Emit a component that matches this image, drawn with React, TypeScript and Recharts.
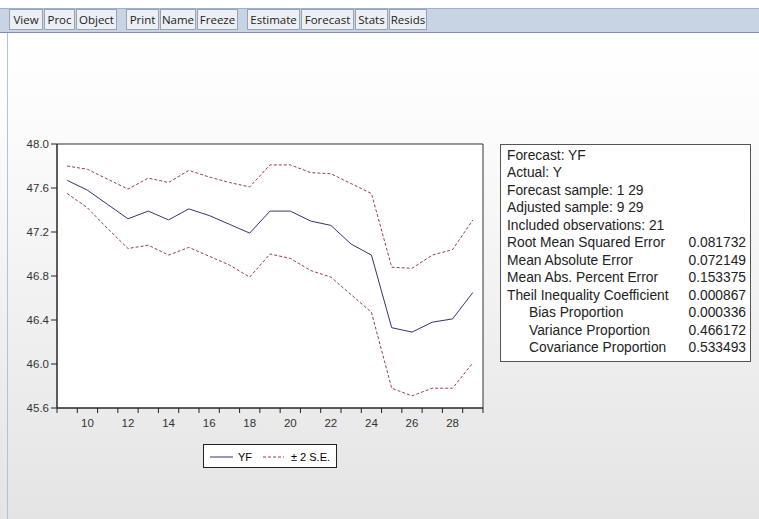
import React from 'react';
import { LineChart, Line, XAxis, YAxis, CartesianGrid, Legend, ReferenceArea } from 'recharts';

// observations 9..29 (adjusted sample)
const obs = [9, 10, 11, 12, 13, 14, 15, 16, 17, 18, 19, 20, 21, 22, 23, 24, 25, 26, 27, 28, 29];
const yf = [47.67, 47.58, 47.45, 47.32, 47.39, 47.31, 47.41, 47.35, 47.27, 47.19, 47.39, 47.39, 47.3, 47.26, 47.09, 46.99, 46.33, 46.29, 46.38, 46.41, 46.65];
const upper = [47.8, 47.77, 47.68, 47.59, 47.69, 47.65, 47.76, 47.7, 47.65, 47.61, 47.81, 47.81, 47.74, 47.73, 47.64, 47.55, 46.88, 46.87, 46.99, 47.04, 47.31];
const lower = [47.55, 47.42, 47.23, 47.05, 47.08, 46.99, 47.06, 46.98, 46.9, 46.79, 47.0, 46.96, 46.85, 46.79, 46.63, 46.47, 45.78, 45.71, 45.78, 45.78, 46.01];

const yTicks = [45.6, 46.0, 46.4, 46.8, 47.2, 47.6, 48.0];
const xLabels = [10, 12, 14, 16, 18, 20, 22, 24, 26, 28];

const statsHead = ['Forecast: YF', 'Actual: Y', 'Forecast sample: 1 29', 'Adjusted sample: 9 29', 'Included observations: 21'];
const statsNames = ['Root Mean Squared Error', 'Mean Absolute Error', 'Mean Abs. Percent Error', 'Theil Inequality Coefficient', 'Bias Proportion', 'Variance Proportion', 'Covariance Proportion'];
const statsValues = ['0.081732', '0.072149', '0.153375', '0.000867', '0.000336', '0.466172', '0.533493'];

const toolbar = [
  [['View', 34], ['Proc', 31], ['Object', 41]],
  [['Print', 33], ['Name', 36], ['Freeze', 41]],
  [['Estimate', 53], ['Forecast', 53], ['Stats', 33], ['Resids', 38]],
] as [string, number][][];

const data = obs.map((o, i) => ({ obs: o, yf: yf[i], upper: upper[i], lower: lower[i] }));
const bandTicks = obs.map((o) => o - 0.5).concat(obs[obs.length - 1] + 0.5);
const xDomain = [bandTicks[0], bandTicks[bandTicks.length - 1]];
const yDomain = [yTicks[0], yTicks[yTicks.length - 1]];

const NAVY = '#34346e';
const RED = '#9a3c4c';
const AXIS_FONT = 'Arial, "Liberation Sans", sans-serif';

const XTick = (props: any) => {
  const { x, y, payload, width } = props;
  const lab = payload.value + 0.5;
  if (!xLabels.includes(lab)) return null;
  const half = width / obs.length / 2;
  return (
    <text x={x + half} y={y + 12} textAnchor="middle" fontSize={11.5} fill="#333" fontFamily={AXIS_FONT}>
      {lab}
    </text>
  );
};

const LegendBox = () => (
  <div style={{ width: 132, height: 22, border: '1px solid #222', background: '#fff', position: 'relative', fontFamily: AXIS_FONT, fontSize: 11, color: '#333' }}>
    <svg width={132} height={22} style={{ position: 'absolute', left: 0, top: 0 }}>
      <line x1={6} x2={29} y1={12} y2={12} stroke={NAVY} strokeWidth={1} />
      <text x={34} y={16}>YF</text>
      <line x1={59} x2={80} y1={12} y2={12} stroke={RED} strokeWidth={1} strokeDasharray="3 2" />
      <text x={87} y={16}>± 2 S.E.</text>
    </svg>
  </div>
);

export default function App() {
  return (
    <div style={{ position: 'absolute', left: 0, top: 0, width: 759, height: 519, overflow: 'hidden', background: 'linear-gradient(#ffffff 8%, #fafafa 30%, #e4e4e4 100%)' }}>
      {/* toolbar */}
      <div style={{ position: 'absolute', left: 0, top: 8, width: 759, height: 23, background: '#c8d3e3', borderTop: '1px solid #9fb0c8', borderBottom: '1px solid #7f8ea6' }} />
      <div style={{ position: 'absolute', left: 9, top: 9, display: 'flex', gap: 8 }}>
        {toolbar.map((grp, gi) => (
          <div key={gi} style={{ display: 'flex' }}>
            {grp.map(([label, w]) => (
              <div key={label} style={{ width: w, height: 21, boxSizing: 'border-box', border: '1px solid #98a4b6', marginRight: 1, background: '#eceff4', fontFamily: '"Open Sans", sans-serif', fontSize: 11.5, color: '#222', textAlign: 'center', lineHeight: '20px' }}>
                {label}
              </div>
            ))}
          </div>
        ))}
      </div>
      {/* left edge */}
      <div style={{ position: 'absolute', left: 7, top: 33, width: 1, height: 486, background: '#aac4e4' }} />

      <div style={{ position: 'absolute', left: 0, top: 0 }}>
        <LineChart width={500} height={480} data={data} margin={{ top: 144, right: 17, bottom: 42, left: 0 }}>
          <CartesianGrid horizontal={false} vertical={false} fill="#fff" />
          <XAxis
            dataKey="obs"
            type="number"
            domain={xDomain}
            ticks={bandTicks}
            interval={0}
            height={30}
            tickSize={5}
            tickLine={{ stroke: '#222' }}
            axisLine={{ stroke: '#222' }}
            tick={<XTick />}
          />
          <YAxis
            type="number"
            domain={yDomain}
            ticks={yTicks}
            interval={0}
            width={57}
            tickSize={6}
            tickMargin={2}
            tickFormatter={(v: number) => v.toFixed(1)}
            tick={{ fontSize: 11.5, fill: '#333', fontFamily: AXIS_FONT }}
            tickLine={{ stroke: '#222' }}
            axisLine={{ stroke: '#222' }}
          />
          <ReferenceArea x1={xDomain[0]} x2={xDomain[1]} y1={yDomain[0]} y2={yDomain[1]} fill="none" stroke="#333" strokeWidth={1} />
          <Line dataKey="upper" name="± 2 S.E." stroke={RED} strokeWidth={1} strokeDasharray="3 2" dot={false} isAnimationActive={false} />
          <Line dataKey="lower" legendType="none" stroke={RED} strokeWidth={1} strokeDasharray="3 2" dot={false} isAnimationActive={false} />
          <Line dataKey="yf" name="YF" stroke={NAVY} strokeWidth={1} dot={false} isAnimationActive={false} />
          <Legend layout="horizontal" verticalAlign="middle" align="center" content={<LegendBox />} wrapperStyle={{ top: 444, left: 203, width: 134 }} />
        </LineChart>
      </div>

      {/* forecast evaluation box */}
      <div style={{ position: 'absolute', left: 500, top: 144, width: 251, height: 218, boxSizing: 'border-box', border: '1px solid #555', background: '#fff', padding: '2px 4px 0 6px', fontFamily: AXIS_FONT, fontSize: 13.8, color: '#222', lineHeight: '17.45px' }}>
        {statsHead.map((t) => (
          <div key={t}>{t}</div>
        ))}
        {statsNames.map((n, i) => (
          <div key={n} style={{ display: 'flex', justifyContent: 'space-between' }}>
            <span style={{ paddingLeft: i >= 4 ? 22 : 0 }}>{n}</span>
            <span>{statsValues[i]}</span>
          </div>
        ))}
      </div>
    </div>
  );
}
